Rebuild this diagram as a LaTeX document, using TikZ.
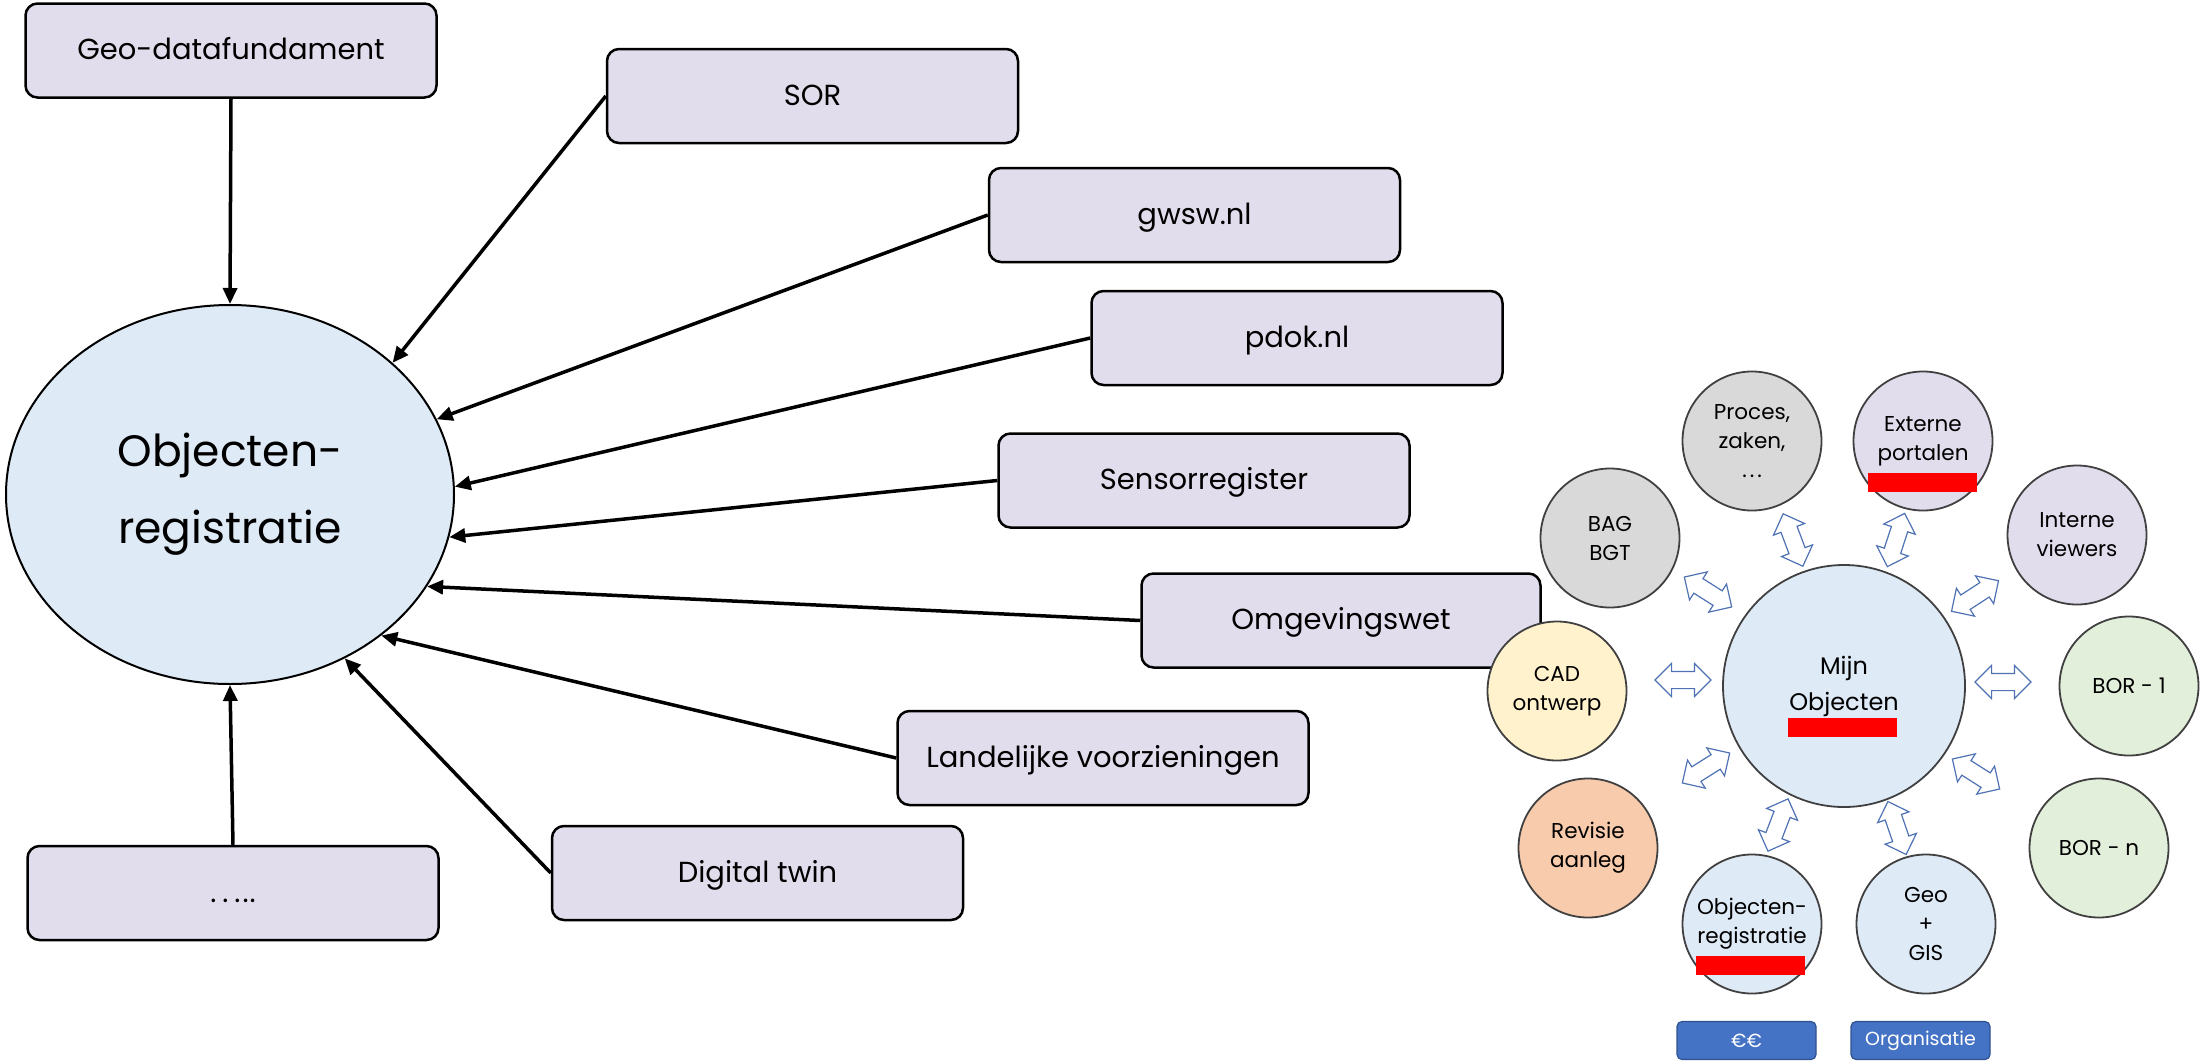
\documentclass[tikz,border=0pt]{standalone}
\usepackage{fontspec}
\setmainfont{Poppins}
\usetikzlibrary{shapes.geometric,shapes.arrows,arrows.meta}
\definecolor{boxfill}{RGB}{226,221,236}
\definecolor{ellfill}{RGB}{222,234,246}
\definecolor{greyfill}{RGB}{217,217,217}
\definecolor{lavfill}{RGB}{226,221,236}
\definecolor{bluefill}{RGB}{222,234,246}
\definecolor{greenfill}{RGB}{226,239,218}
\definecolor{yellowfill}{RGB}{255,242,204}
\definecolor{orangefill}{RGB}{248,203,173}
\definecolor{circborder}{RGB}{64,64,64}
\definecolor{arrblue}{RGB}{79,114,180}
\definecolor{btnblue}{RGB}{68,114,196}
\definecolor{btnborder}{RGB}{47,82,143}
\begin{document}
\begin{tikzpicture}[x=1pt,y=-1pt,
  box/.style={draw=black, line width=2.5pt, rounded corners=12pt, fill=boxfill,
    minimum width=411pt, minimum height=94pt, inner sep=0pt,
    text height=24pt, text depth=6pt,
    font=\fontsize{29}{34}\selectfont},
  conn/.style={line width=3.5pt, -{Triangle[length=16pt,width=14pt]}},
  circ/.style={circle, draw=circborder, line width=1.8pt, minimum size=139pt,
    inner sep=0pt, align=center, font=\fontsize{21.5}{29}\selectfont},
  darr/.style={double arrow, draw=arrblue, fill=white, line width=1.2pt,
    minimum height=56pt, inner sep=8pt, double arrow head extend=8pt},
  redbar/.style={fill=red, draw=none, minimum width=109pt, minimum height=19pt, inner sep=0pt},
  btn/.style={draw=btnborder, line width=1.2pt, fill=btnblue, rounded corners=5pt,
    minimum width=139pt, minimum height=38pt, inner sep=0pt, text=white,
    font=\fontsize{19}{22}\selectfont}
]
\useasboundingbox (0,0) rectangle (2202,1061);

% left boxes
\node[box] (geo) at (231,50.5) {Geo-datafundament};
\node[box] (sor) at (812.5,96) {SOR};
\node[box] (gwsw) at (1194.5,215) {gwsw.nl};
\node[box] (pdok) at (1297,338) {pdok.nl};
\node[box] (sensor) at (1204,480.5) {Sensorregister};
\node[box, minimum width=399pt] (omg) at (1341,620.5) {Omgevingswet};
\node[box] (land) at (1103,758) {Landelijke voorzieningen};
\node[box] (dig) at (757.5,873) {Digital twin};
\node[box] (dots) at (233,893) {.\hspace{6pt}.\hspace{6pt}.\hspace{2pt}.\hspace{1pt}.};

% ellipse
\node[ellipse, draw=black, line width=2pt, fill=ellfill, minimum width=448pt,
  minimum height=379pt, inner sep=0pt, align=center,
  font=\fontsize{44}{77}\selectfont] (obj) at (230,494.5) {Objecten-\\registratie};

% connectors
\draw[conn] (geo.south) -- (obj.90);
\draw[conn] (sor.west) -- (obj.39);
\draw[conn] (gwsw.west) -- (obj.20);
\draw[conn] (pdok.west) -- (obj.2);
\draw[conn] (sensor.west) -- (obj.-11);
\draw[conn] (omg.west) -- (obj.-25);
\draw[conn] (land.west) -- (obj.-43);
\draw[conn] (dig.west) -- (obj.-55);
\draw[conn] (dots.north) -- (obj.-90);

% right cluster
\node[circ, minimum size=242pt, fill=bluefill, font=\fontsize{24}{36}\selectfont] (mijn) at (1844,686) {Mijn\\Objecten};
\node[circ, fill=greyfill] (proces) at (1752,441) {Proces,\\zaken,\\.\hspace{3pt}.\hspace{3pt}.};
\node[circ, fill=lavfill] (ext) at (1923,441) {Externe\\portalen};
\node[circ, fill=lavfill] (int) at (2077,535) {Interne\\viewers};
\node[circ, fill=greyfill] (bag) at (1610,538) {BAG\\BGT};
\node[circ, fill=yellowfill] (cad) at (1557,691) {CAD\\ontwerp};
\node[circ, fill=greenfill] (bor1) at (2129,686) {BOR - 1};
\node[circ, fill=orangefill] (rev) at (1588,848) {Revisie\\aanleg};
\node[circ, fill=greenfill] (born) at (2099,848) {BOR - n};
\node[circ, fill=bluefill] (oreg) at (1752,924) {Objecten-\\registratie};
\node[circ, fill=bluefill] (gis) at (1926,924) {Geo\\+\\GIS};

% double arrows
\node[darr, rotate=110.6] (a1) at (1793,540) {};
\node[darr, rotate=72] (a2) at (1896,540) {};
\node[darr, rotate=147.7] (a3) at (1708,592) {};
\node[darr, rotate=33] (a4) at (1975,596) {};
\node[darr] (a5) at (1683,680) {};
\node[darr] (a6) at (2003,682) {};
\node[darr, rotate=-147.7] (a7) at (1706,768) {};
\node[darr, rotate=-32.4] (a8) at (1976,774) {};
\node[darr, rotate=-111] (a9) at (1778,825) {};
\node[darr, rotate=-71] (a10) at (1897,828) {};

% red bars
\node[redbar] (r1) at (1922.5,482) {};
\node[redbar] (r2) at (1842.5,727.5) {};
\node[redbar] (r3) at (1750.5,965.5) {};

% buttons
\node[btn] (eur) at (1746.5,1040.5) {€€};
\node[btn] (org) at (1920.5,1040.5) {Organisatie};
\end{tikzpicture}
\end{document}
